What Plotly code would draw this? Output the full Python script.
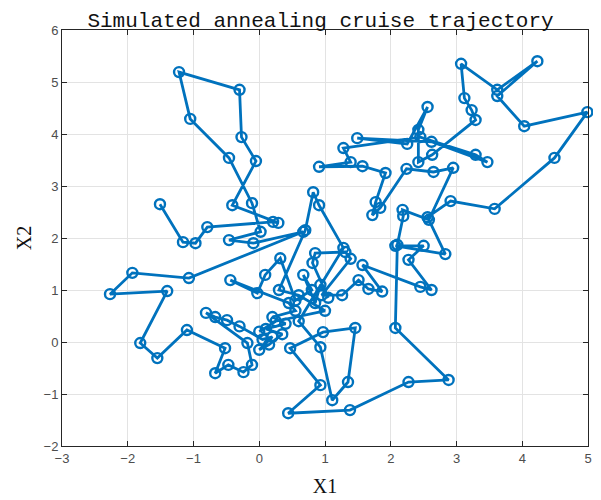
import plotly.graph_objects as go

x1 = [-1.51, -1.16, -0.97, -0.79, 0.21, 0.29, -0.41, -0.05, -0.27, -0.30, -1.22, -1.05, -0.46,
      -0.11, 0.02, -0.46, -0.09, 0.67, -1.07, -1.93, -2.27, -1.40, -1.81, -1.55, -1.10, -0.52,
      -0.67, -0.47, -0.24, -0.11, -0.18, -0.81, -0.67, -0.49, -0.30, 0.05, 0.20, 0.00, 0.15,
      0.35, 0.10, 0.40, 0.20, 0.55, 0.45, -0.44, -0.03, 0.09, 0.32, 0.55, 0.80, 0.67, 0.85,
      0.93, 1.05, 0.81, 0.85, 1.31, 1.39, 0.95, 1.26, 1.51, 1.66, 1.87, 1.57, 2.45, 2.62,
      2.27, 2.50, 2.07, 2.83, 2.56, 2.91, 3.58, 4.49, 4.99, 4.03, 3.62, 4.23, 3.62, 3.07,
      3.12, 3.23, 3.29, 2.63, 2.42, 2.42, 2.56, 2.25, 1.49, 2.62, 3.47, 3.29, 2.45, 1.28,
      1.39, 0.91, 1.57, 1.92, 1.77, 1.72, 1.84, 2.24, 2.65, 2.95, 2.58, 2.18, 2.19, 2.10,
      2.07, 2.88, 2.27, 1.38, 0.44, 0.93, 0.47, 0.97, 1.46, 1.35, 1.11, 0.93, 0.60, 1.28,
      0.91, 0.82, 0.70, 0.30, 0.60, 1.00, 0.25, 0.00]
x2 = [2.65, 1.92, 1.90, 2.21, 2.31, 2.29, 2.63, 3.48, 3.94, 4.85, 5.19, 4.29, 3.54,
      2.67, 2.12, 1.96, 1.90, 2.12, 1.23, 1.33, 0.92, 0.98, -0.02, -0.31, 0.23, -0.12,
      -0.60, -0.44, -0.58, -0.44, -0.02, 0.56, 0.48, 0.42, 0.30, 0.05, 0.10, -0.15, -0.05,
      0.15, 0.25, 0.35, 0.48, 0.60, 0.75, 1.19, 0.94, 1.29, 1.61, 0.80, 1.00, 1.29, 0.75,
      1.10, 0.85, 1.52, 1.71, 1.73, 1.60, 0.90, 0.90, 1.19, 1.02, 0.97, 1.48, 1.06, 1.00,
      1.58, 1.85, 1.85, 1.69, 2.40, 2.71, 2.56, 3.54, 4.42, 4.15, 4.73, 5.40, 4.85, 5.35,
      4.69, 4.46, 4.27, 3.60, 3.46, 4.08, 4.52, 3.81, 3.92, 3.85, 3.46, 3.60, 3.94, 3.73,
      3.46, 3.37, 3.38, 3.25, 2.69, 2.44, 2.58, 3.33, 3.27, 3.35, 2.35, 2.54, 2.42, 1.87,
      0.27, -0.73, -0.77, -1.31, -1.37, -0.83, -0.12, 0.19, 0.27, -0.77, -1.12, -0.10, 0.40, 1.81,
      2.63, 2.88, 2.15, 1.00, 0.90, 0.60, 0.40, 0.20]

title_text = "Simulated annealing cruise trajectory"
xlabel = "X1"
ylabel = "X2"
xticks = [-3, -2, -1, 0, 1, 2, 3, 4, 5]
yticks = [-2, -1, 0, 1, 2, 3, 4, 5, 6]

color = "#0072BD"
fig = go.Figure(go.Scatter(
    x=x1, y=x2, mode="lines+markers",
    line=dict(color=color, width=2.8),
    marker=dict(symbol="circle-open", size=10, color=color, line=dict(width=2.4, color=color)),
    showlegend=False, cliponaxis=False,
))

axis_common = dict(
    showgrid=True, gridcolor="#e3e3e3", gridwidth=1, automargin=False,
    zeroline=False, showline=True, linecolor="#262626", linewidth=1,
    mirror="ticks", ticks="inside", ticklen=5, tickcolor="#262626",
    tickfont=dict(family="Liberation Sans, Arial", size=13, color="#4d4d4d"),
)
fig.update_xaxes(range=[-3, 5], tickvals=xticks, **axis_common,
                 title=dict(text=xlabel, font=dict(family="Liberation Serif, serif", size=20, color="#111"), standoff=14))
fig.update_yaxes(range=[-2, 6], tickvals=yticks, **axis_common,
                 title=dict(text=ylabel, font=dict(family="Liberation Serif, serif", size=20, color="#111"), standoff=6))

fig.update_layout(
    width=601, height=500,
    margin=dict(l=54, r=21, t=22, b=62),
    paper_bgcolor="white", plot_bgcolor="white",
    title=dict(text=title_text, x=0.52, xanchor="center", y=0.992, yanchor="top",
               font=dict(family="Liberation Mono, monospace", size=21, color="#111"),
               automargin=False, pad=dict(t=0)),
)

fig.write_html("out.html")
